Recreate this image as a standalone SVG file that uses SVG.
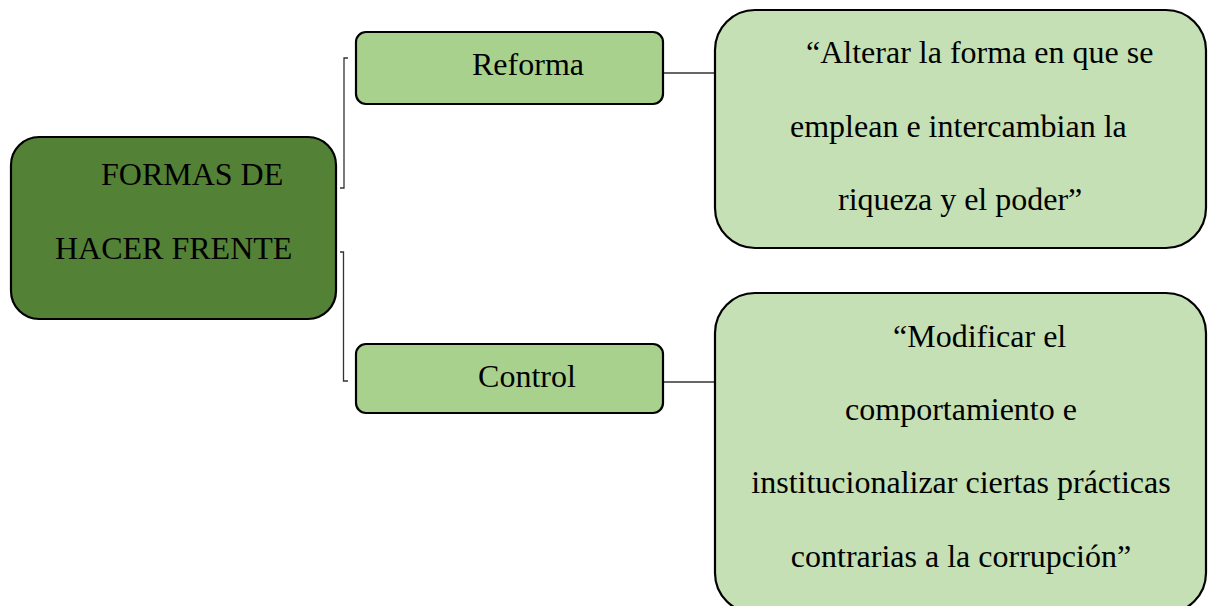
<svg xmlns="http://www.w3.org/2000/svg" width="1208" height="606" viewBox="0 0 1208 606">
  <style>
    .box { stroke: #000; stroke-width: 2.2; }
    .root { fill: #538135; }
    .branch { fill: #A9D18E; }
    .leaf { fill: #C5E0B4; }
    .lbl { font-family: "Liberation Serif", "Times New Roman", serif; font-size: 32px; fill: #000; }
    .wire { fill: none; stroke: #333; stroke-width: 1.3; }
  </style>
  <rect width="1208" height="606" fill="#fff"/>

  <g id="connectors">
    <!-- brackets from the root to the two branches -->
    <polyline class="wire" points="340,188 344,188 344,58 348,58"/>
    <polyline class="wire" points="340,252 343.5,252 343.5,381 348,381"/>
    <!-- branch to leaf links -->
    <line class="wire" x1="663" y1="73" x2="716" y2="73"/>
    <line class="wire" x1="663" y1="382" x2="716" y2="382"/>
  </g>

  <g id="root">
    <rect class="box root" x="11" y="137" width="325" height="182" rx="28"/>
    <text class="lbl" x="101" y="185">FORMAS DE</text>
    <text class="lbl" x="55" y="259">HACER FRENTE</text>
  </g>

  <g id="reforma">
    <rect class="box branch" x="356" y="32" width="307" height="72" rx="10"/>
    <text class="lbl" x="528" y="75" text-anchor="middle">Reforma</text>
  </g>

  <g id="control">
    <rect class="box branch" x="356" y="344" width="307" height="69" rx="10"/>
    <text class="lbl" x="527" y="387" text-anchor="middle">Control</text>
  </g>

  <g id="reforma-def">
    <rect class="box leaf" x="715" y="10" width="491" height="238" rx="40"/>
    <text class="lbl" x="806" y="63">“Alterar la forma en que se</text>
    <text class="lbl" x="790" y="137">emplean e intercambian la</text>
    <text class="lbl" x="838" y="210">riqueza y el poder”</text>
  </g>

  <g id="control-def">
    <rect class="box leaf" x="715" y="293" width="491" height="320" rx="40"/>
    <text class="lbl" x="893" y="347">“Modificar el</text>
    <text class="lbl" x="961" y="420" text-anchor="middle">comportamiento e</text>
    <text class="lbl" x="961" y="493" text-anchor="middle">institucionalizar ciertas prácticas</text>
    <text class="lbl" x="961" y="567" text-anchor="middle">contrarias a la corrupción”</text>
  </g>
</svg>
